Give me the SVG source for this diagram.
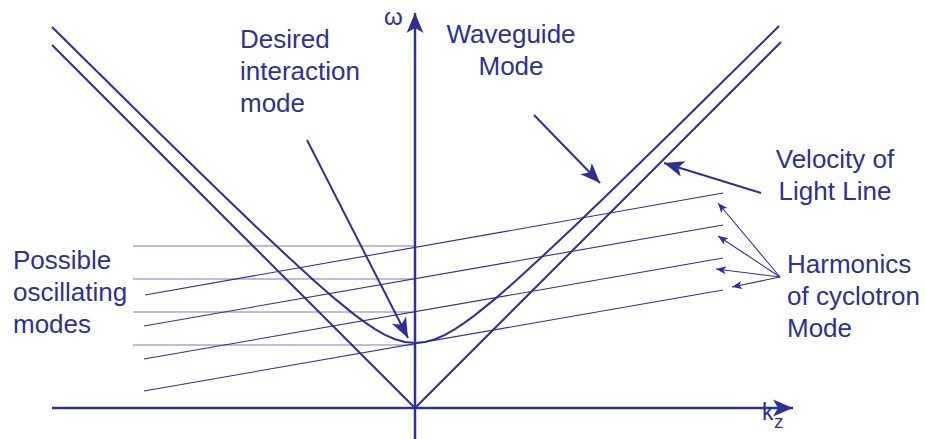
<svg xmlns="http://www.w3.org/2000/svg" width="925" height="439" viewBox="0 0 925 439">
<defs>
<style>
.t{font-family:"Liberation Sans",Arial,sans-serif;font-size:26px;fill:#2e3192}
.m{fill:none;stroke:#2e3192;stroke-width:2}
.h{fill:none;stroke:#2e3192;stroke-width:1.1}
.f{fill:none;stroke:#a4a6d3;stroke-width:1.5}
.ax{fill:none;stroke:#2e3192;stroke-width:2.5}
</style>
<marker id="big" viewBox="-20 -10 22 20" refX="0" refY="0" markerWidth="22" markerHeight="20" markerUnits="userSpaceOnUse" orient="auto">
<path d="M0,0 L-20,-8 L-15,0 L-20,8 Z" fill="#2e3192"/>
</marker>
<marker id="axm" viewBox="-22 -10 24 20" refX="0" refY="0" markerWidth="24" markerHeight="20" markerUnits="userSpaceOnUse" orient="auto">
<path d="M0,0 L-20,-8.5 L-15,0 L-20,8.5 Z" fill="#2e3192"/>
</marker>
<marker id="sm" viewBox="-11 -6 12 12" refX="0" refY="0" markerWidth="12" markerHeight="12" markerUnits="userSpaceOnUse" orient="auto">
<path d="M0,0 L-10,-4 L-7.5,0 L-10,4 Z" fill="#2e3192"/>
</marker>
</defs>
<rect width="925" height="439" fill="#ffffff"/>
<g id="connectors">
<line id="mode1" class="f" x1="133" y1="246" x2="415" y2="246"/>
<line id="mode2" class="f" x1="133" y1="279" x2="415" y2="279"/>
<line id="mode3" class="f" x1="133" y1="312" x2="415" y2="312"/>
<line id="mode4" class="f" x1="133" y1="345" x2="415" y2="345"/>
<line id="harm1" class="h" x1="145" y1="295" x2="723" y2="193"/>
<line id="harm2" class="h" x1="144" y1="326" x2="723" y2="225"/>
<line id="harm3" class="h" x1="144" y1="359" x2="723" y2="258"/>
<line id="harm4" class="h" x1="144" y1="391" x2="723" y2="290"/>
<polyline id="light" class="m" points="52,45 415,408 781,42"/>
<polyline id="waveguide" class="m" points="52,27 115,89.3 165,138.5 215,187.2 255,225.7 285,254 315,281.5 335,298.9 355,315.1 365,322.4 375,329.1 385,334.8 395,339.2 405,342 415,343 425,342 435,339.2 445,334.8 455,329.1 465,322.4 475,315.1 495,298.9 515,281.5 545,254 575,225.7 615,187.2 665,138.5 715,89.3 779,26"/>
<line id="axis-k" class="ax" x1="52" y1="408" x2="793" y2="408" marker-end="url(#axm)"/>
<line id="axis-w" class="ax" x1="415" y1="439" x2="415" y2="13" marker-end="url(#axm)"/>
<line id="arr-desired" class="m" x1="307" y1="140" x2="408" y2="338" marker-end="url(#big)"/>
<line id="arr-waveguide" class="m" x1="534" y1="115" x2="600" y2="183" marker-end="url(#big)"/>
<line id="arr-light" class="m" x1="761" y1="193" x2="664" y2="163" marker-end="url(#big)"/>
<line id="arr-h1" class="h" x1="780" y1="277" x2="718" y2="203" marker-end="url(#sm)"/>
<line id="arr-h2" class="h" x1="780" y1="277" x2="718" y2="236" marker-end="url(#sm)"/>
<line id="arr-h3" class="h" x1="780" y1="277" x2="716" y2="269" marker-end="url(#sm)"/>
<line id="arr-h4" class="h" x1="780" y1="277" x2="732" y2="287" marker-end="url(#sm)"/>
</g>
<g id="label-omega"><text class="t" x="384" y="25" style="font-size:24px">ω</text></g>
<g id="label-kz"><text class="t" x="762" y="420" style="font-size:23px">k</text><text class="t" x="774" y="428" style="font-size:19px">z</text></g>
<g id="label-desired"><text class="t" x="240" y="48">Desired</text><text class="t" x="240" y="80">interaction</text><text class="t" x="240" y="112">mode</text></g>
<g id="label-waveguide"><text class="t" x="511" y="43" text-anchor="middle">Waveguide</text><text class="t" x="511" y="75" text-anchor="middle">Mode</text></g>
<g id="label-light"><text class="t" x="835" y="168" text-anchor="middle">Velocity of</text><text class="t" x="835" y="200" text-anchor="middle">Light Line</text></g>
<g id="label-harmonics"><text class="t" x="787" y="273">Harmonics</text><text class="t" x="787" y="305">of cyclotron</text><text class="t" x="787" y="337">Mode</text></g>
<g id="label-possible"><text class="t" x="13" y="269">Possible</text><text class="t" x="13" y="301">oscillating</text><text class="t" x="13" y="333">modes</text></g>
</svg>
